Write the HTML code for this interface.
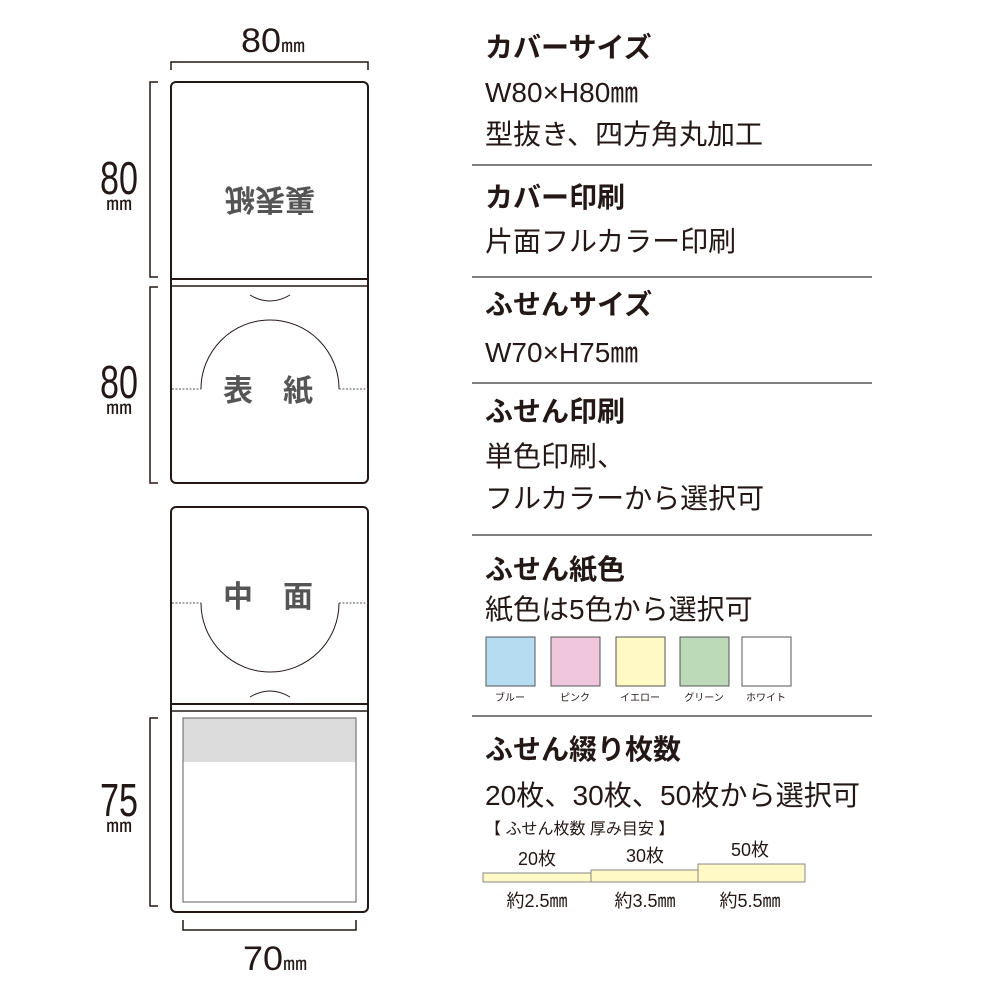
<!DOCTYPE html>
<html><head><meta charset="utf-8"><style>
html,body{margin:0;padding:0;background:#fff}
svg{display:block}
text{font-family:"Liberation Sans","Noto Sans CJK JP",sans-serif;fill:#231815}
.h{font-weight:bold;font-size:28px}
.b{font-size:28px}
.g{fill:#555;font-weight:bold;font-size:30px}
</style></head><body>
<svg width="1000" height="1000" viewBox="0 0 1000 1000" xmlns="http://www.w3.org/2000/svg">
<g fill="none" stroke="#231815" stroke-width="1.5">
<path d="M171 70 V62 H368 V70"/>
<path d="M158 82 H150 V277 H158"/>
<path d="M158 287 H150 V483 H158"/>
<path d="M158 718 H150 V906 H158"/>
<path d="M183 920 V930 H356 V920"/>
</g>
<text x="241" y="52" font-size="34" textLength="40" lengthAdjust="spacingAndGlyphs">80</text>
<text x="281" y="52" font-size="18" textLength="24" lengthAdjust="spacingAndGlyphs">㎜</text>
<text x="100" y="194" font-size="46" textLength="38" lengthAdjust="spacingAndGlyphs">80</text>
<text x="106" y="210" font-size="18" textLength="26" lengthAdjust="spacingAndGlyphs">㎜</text>
<text x="100" y="398" font-size="46" textLength="38" lengthAdjust="spacingAndGlyphs">80</text>
<text x="106" y="414" font-size="18" textLength="26" lengthAdjust="spacingAndGlyphs">㎜</text>
<text x="100" y="816" font-size="46" textLength="38" lengthAdjust="spacingAndGlyphs">75</text>
<text x="106" y="832" font-size="18" textLength="26" lengthAdjust="spacingAndGlyphs">㎜</text>
<text x="243" y="970" font-size="34" textLength="40" lengthAdjust="spacingAndGlyphs">70</text>
<text x="283" y="970" font-size="18" textLength="24" lengthAdjust="spacingAndGlyphs">㎜</text>
<rect x="171" y="82" width="197" height="401" rx="5" fill="#fff" stroke="#231815" stroke-width="2"/>
<line x1="171" y1="279" x2="368" y2="279" stroke="#231815" stroke-width="2"/>
<line x1="171" y1="286" x2="368" y2="286" stroke="#231815" stroke-width="1.5"/>
<text class="g" x="270" y="167" text-anchor="middle" transform="rotate(180 270 178)">裏表紙</text>
<path d="M250 295 Q270 307 290 295" fill="none" stroke="#231815" stroke-width="1"/>
<path d="M201 389 A69 69 0 0 1 339 389" fill="none" stroke="#231815" stroke-width="1"/>
<path d="M172 389 H201 M339 389 H368" stroke="#555" stroke-width="1" stroke-dasharray="2 1.5"/>
<text class="g" x="238" y="401" text-anchor="middle">表</text>
<text class="g" x="298" y="401" text-anchor="middle">紙</text>
<rect x="171" y="507" width="197" height="405" rx="5" fill="#fff" stroke="#231815" stroke-width="2"/>
<path d="M201 603 A69 69 0 0 0 339 603" fill="none" stroke="#231815" stroke-width="1"/>
<path d="M172 603 H201 M339 603 H368" stroke="#555" stroke-width="1" stroke-dasharray="2 1.5"/>
<text class="g" x="238" y="607" text-anchor="middle">中</text>
<text class="g" x="298" y="607" text-anchor="middle">面</text>
<path d="M250 697 Q270 685 290 697" fill="none" stroke="#231815" stroke-width="1"/>
<line x1="171" y1="704" x2="368" y2="704" stroke="#231815" stroke-width="2"/>
<line x1="171" y1="711" x2="368" y2="711" stroke="#231815" stroke-width="1.5"/>
<rect x="183" y="718" width="173" height="44" fill="#dcdcdc"/>
<rect x="183" y="718" width="173" height="184" fill="none" stroke="#777" stroke-width="1.2"/>
<text class="h" x="485" y="57">カバーサイズ</text>
<text class="b" x="485" y="102" font-size="30">W80×H80㎜</text>
<text class="b" x="485" y="144">型抜き、四方角丸加工</text>
<line x1="472" y1="165" x2="872" y2="165" stroke="#555" stroke-width="1.5"/>
<text class="h" x="485" y="207">カバー印刷</text>
<text class="b" x="485" y="251">片面フルカラー印刷</text>
<line x1="472" y1="277" x2="872" y2="277" stroke="#555" stroke-width="1.5"/>
<text class="h" x="485" y="314">ふせんサイズ</text>
<text class="b" x="485" y="362" font-size="30">W70×H75㎜</text>
<line x1="472" y1="383" x2="872" y2="383" stroke="#555" stroke-width="1.5"/>
<text class="h" x="485" y="421">ふせん印刷</text>
<text class="b" x="485" y="466">単色印刷、</text>
<text class="b" x="485" y="508">フルカラーから選択可</text>
<line x1="472" y1="535" x2="872" y2="535" stroke="#555" stroke-width="1.5"/>
<text class="h" x="485" y="579">ふせん紙色</text>
<text class="b" x="485" y="619">紙色は5色から選択可</text>
<g stroke="#555" stroke-width="1">
<rect x="486" y="637" width="49" height="49" fill="#b5dcf1"/>
<rect x="551" y="637" width="49" height="49" fill="#f0c6dc"/>
<rect x="616" y="637" width="49" height="49" fill="#fef9c5"/>
<rect x="680" y="637" width="49" height="49" fill="#bddab8"/>
<rect x="742" y="637" width="49" height="49" fill="#fff"/>
</g>
<g font-size="10" text-anchor="middle">
<text x="510" y="701">ブルー</text><text x="575" y="701">ピンク</text><text x="640" y="701">イエロー</text><text x="704" y="701">グリーン</text><text x="766" y="701">ホワイト</text>
</g>
<line x1="472" y1="716" x2="872" y2="716" stroke="#555" stroke-width="1.5"/>
<text class="h" x="485" y="759">ふせん綴り枚数</text>
<text class="b" x="485" y="805" font-size="30" textLength="375" lengthAdjust="spacingAndGlyphs">20枚、30枚、50枚から選択可</text>
<text x="485" y="834" font-size="16">【 ふせん枚数 厚み目安 】</text>
<g stroke="#888" stroke-width="1" fill="#fef9c5">
<rect x="483" y="873" width="108" height="9"/>
<rect x="591" y="870" width="107" height="12"/>
<rect x="698" y="864" width="107" height="18"/>
</g>
<g font-size="18" text-anchor="middle">
<text x="537" y="865">20枚</text><text x="645" y="862">30枚</text><text x="750" y="856">50枚</text>
<text x="537" y="907">約2.5㎜</text><text x="645" y="907">約3.5㎜</text><text x="750" y="907">約5.5㎜</text>
</g>
</svg>
</body></html>
